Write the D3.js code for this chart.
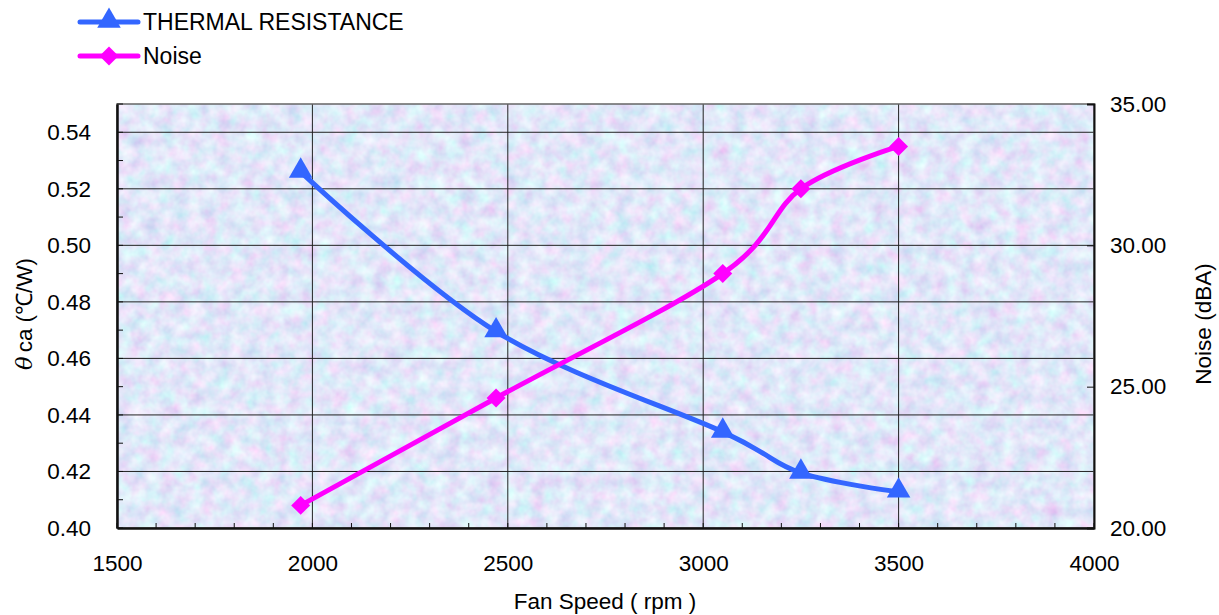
<!DOCTYPE html>
<html>
<head>
<meta charset="utf-8">
<script src="https://cdn.jsdelivr.net/npm/d3@7"></script>
<style>
  body { margin: 0; background: #fff; }
  text { font-family: "Liberation Sans", Arial, sans-serif; fill: #000; }
</style>
</head>
<body>
<div id="chart-area"></div>
<script>
// data
const fanSpeed = [1970, 2470, 3050, 3250, 3500]
const thermal = [0.526, 0.4695, 0.434, 0.4195, 0.4128]
const noise = [20.8, 24.6, 29.0, 32.0, 33.5]
const xTicks = [1500, 2000, 2500, 3000, 3500, 4000]
const yTicks = [0.40, 0.42, 0.44, 0.46, 0.48, 0.50, 0.52, 0.54]
const y2Ticks = [20, 25, 30, 35]

const W = 1219, H = 615
const m = { left: 117, right: 125, top: 104, bottom: 87 }
const iw = W - m.left - m.right
const ih = H - m.top - m.bottom
const FS = "22.5px"

const svg = d3.select("#chart-area")
    .append("svg")
    .attr("width", W)
    .attr("height", H)

// mottled pastel background texture
const defs = svg.append("defs")
const f = defs.append("filter").attr("id", "tex")
    .attr("x", 0).attr("y", 0).attr("width", 1).attr("height", 1)
f.append("feTurbulence")
    .attr("type", "fractalNoise")
    .attr("baseFrequency", 0.07)
    .attr("numOctaves", 3)
    .attr("seed", 7)
f.append("feColorMatrix")
    .attr("type", "matrix")
    .attr("values", "0.3 -0.2 0.35 0 0.53  -0.15 0.3 0.35 0 0.55  0 0 0.15 0 0.87  0 0 0 0 1")

const g = svg.append("g")
    .attr("transform", `translate(${m.left}, ${m.top})`)

g.append("rect")
    .attr("width", iw).attr("height", ih)
    .attr("fill", "#c2cef3")
g.append("rect")
    .attr("width", iw).attr("height", ih)
    .attr("filter", "url(#tex)")

const x = d3.scaleLinear().domain([1500, 4000]).range([0, iw])
const y = d3.scaleLinear().domain([0.40, 0.55]).range([ih, 0])
const y2 = d3.scaleLinear().domain([20, 35]).range([ih, 0])

// grid
g.append("g").selectAll("line")
    .data(yTicks.slice(1))
    .enter().append("line")
    .attr("x1", 0).attr("x2", iw)
    .attr("y1", d => y(d)).attr("y2", d => y(d))
    .attr("stroke", "#222").attr("stroke-width", 1)
g.append("g").selectAll("line")
    .data(xTicks.slice(1, -1))
    .enter().append("line")
    .attr("x1", d => x(d)).attr("x2", d => x(d))
    .attr("y1", 0).attr("y2", ih)
    .attr("stroke", "#222").attr("stroke-width", 1)

// frame
g.append("rect")
    .attr("width", iw).attr("height", ih)
    .attr("fill", "none").attr("stroke", "#666").attr("stroke-width", 1.5)

// bottom axis
const xAxis = g.append("g")
    .attr("transform", `translate(0, ${ih})`)
    .call(d3.axisBottom(x).tickValues(xTicks).tickSize(0).tickPadding(27).tickFormat(d3.format("d")))
xAxis.select(".domain").attr("stroke", "#111").attr("stroke-width", 2.5)
xAxis.selectAll("text").attr("font-size", FS)
xAxis.append("g").selectAll("line")
    .data(d3.range(1500, 4001, 100))
    .enter().append("line")
    .attr("x1", d => x(d)).attr("x2", d => x(d))
    .attr("y1", 0).attr("y2", -5)
    .attr("stroke", "#111")

// left axis
const yAxis = g.append("g")
    .call(d3.axisLeft(y).tickValues(yTicks).tickSize(0).tickPadding(26).tickFormat(d3.format(".2f")))
yAxis.select(".domain").attr("stroke", "#111").attr("stroke-width", 2.5)
yAxis.selectAll("text").attr("font-size", FS)
yAxis.append("g").selectAll("line")
    .data(d3.range(0.40, 0.555, 0.01))
    .enter().append("line")
    .attr("x1", 0).attr("x2", 6)
    .attr("y1", d => y(d)).attr("y2", d => y(d))
    .attr("stroke", "#111")

// right axis
const y2Axis = g.append("g")
    .attr("transform", `translate(${iw}, 0)`)
    .call(d3.axisRight(y2).tickValues(y2Ticks).tickSize(-7).tickPadding(16).tickFormat(d3.format(".2f")))
y2Axis.select(".domain").attr("stroke", "#111").attr("stroke-width", 2)
y2Axis.selectAll(".tick line").attr("stroke", "#111")
y2Axis.selectAll("text").attr("font-size", FS)

// lines
const pts1 = fanSpeed.map((d, i) => [x(d), y(thermal[i])])
const pts2 = fanSpeed.map((d, i) => [x(d), y2(noise[i])])
const line = d3.line().curve(d3.curveCardinal.tension(0))

g.append("path")
    .attr("d", line(pts1))
    .attr("fill", "none").attr("stroke", "#3366ff").attr("stroke-width", 5)
g.append("path")
    .attr("d", line(pts2))
    .attr("fill", "none").attr("stroke", "#ff00ff").attr("stroke-width", 5)

const tri = d3.symbol().type(d3.symbolTriangle).size(240)
const dia = d3.symbol().type(d3.symbolSquare).size(180)

g.selectAll(".tri")
    .data(pts1)
    .enter().append("path")
    .attr("class", "tri")
    .attr("d", tri)
    .attr("transform", d => `translate(${d[0]}, ${d[1] - 1})`)
    .attr("fill", "#3366ff")
g.selectAll(".dia")
    .data(pts2)
    .enter().append("path")
    .attr("class", "dia")
    .attr("d", dia)
    .attr("transform", d => `translate(${d[0]}, ${d[1]}) rotate(45)`)
    .attr("fill", "#ff00ff")

// legend
const legend = svg.append("g")
const items = [
    { name: "THERMAL RESISTANCE", color: "#3366ff", sym: tri, rot: 0, y: 22 },
    { name: "Noise", color: "#ff00ff", sym: dia, rot: 45, y: 56 }
]
items.forEach(it => {
    legend.append("line")
        .attr("x1", 80).attr("x2", 138)
        .attr("y1", it.y).attr("y2", it.y)
        .attr("stroke", it.color).attr("stroke-width", 5)
        .attr("stroke-linecap", "round")
    legend.append("path")
        .attr("d", it.sym)
        .attr("transform", `translate(109, ${it.y - (it.rot ? 0 : 1)}) rotate(${it.rot})`)
        .attr("fill", it.color)
    legend.append("text")
        .attr("x", 143).attr("y", it.y + 8)
        .attr("font-size", "23px")
        .text(it.name)
})

// axis labels
svg.append("text")
    .attr("x", 605).attr("y", 609)
    .attr("text-anchor", "middle")
    .attr("font-size", FS)
    .text("Fan Speed ( rpm )")

const yl = svg.append("text")
    .attr("transform", `translate(32, 314) rotate(-90)`)
    .attr("text-anchor", "middle")
    .attr("font-size", FS)
yl.append("tspan").attr("font-style", "italic").attr("font-family", "DejaVu Serif, serif").text("θ")
yl.append("tspan").attr("dx", 4).text("ca")
yl.append("tspan").attr("dx", 6).text("(℃/W)")

svg.append("text")
    .attr("transform", `translate(1211, 324) rotate(-90)`)
    .attr("text-anchor", "middle")
    .attr("font-size", FS)
    .text("Noise (dBA)")
</script>
</body>
</html>
